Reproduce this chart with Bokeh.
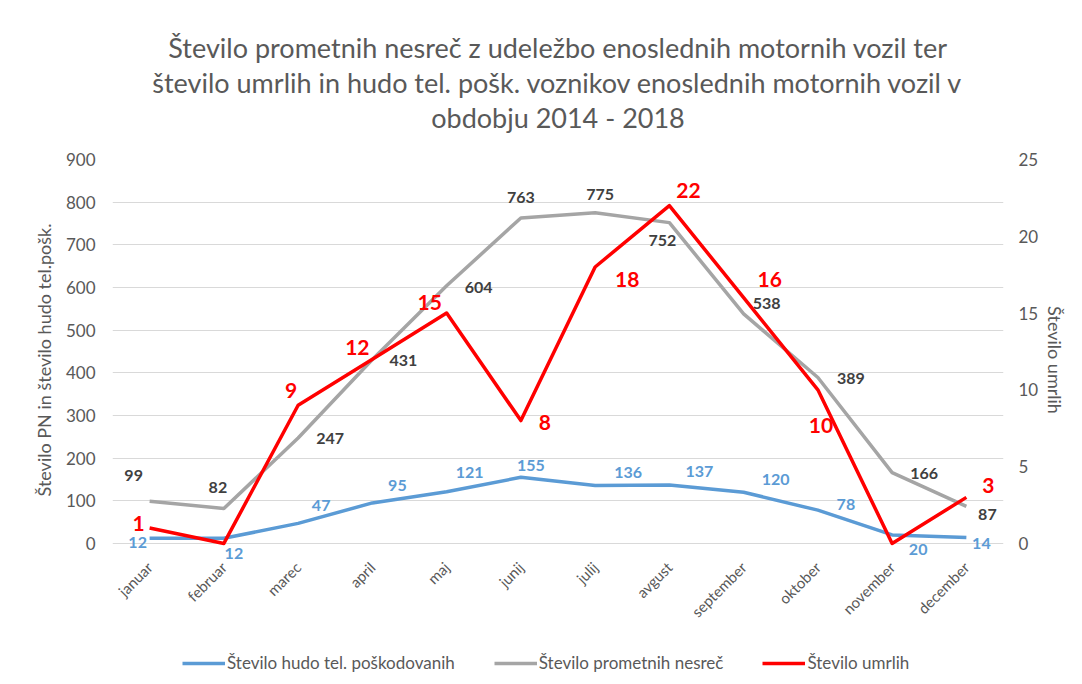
import math
from bokeh.plotting import figure
from bokeh.layouts import column
from bokeh.models import (ColumnDataSource, Range1d, LinearAxis, FactorRange, Legend, LegendItem,
                          Title, SingleIntervalTicker)
from bokeh.core.properties import value
from bokeh.embed import file_html
from bokeh.resources import INLINE

months = ["januar", "februar", "marec", "april", "maj", "junij", "julij", "avgust",
          "september", "oktober", "november", "december"]
injured = [12, 12, 47, 95, 121, 155, 136, 137, 120, 78, 20, 14]
accidents = [99, 82, 247, 431, 604, 763, 775, 752, 538, 389, 166, 87]
deaths = [1, 0, 9, 12, 15, 8, 18, 22, 16, 10, 0, 3]
series_names = ["Število hudo tel. poškodovanih", "Število prometnih nesreč", "Število umrlih"]
series_colors = ["#5b9bd5", "#a5a5a5", "#ff0000"]

# label offsets (screen px, down positive)
g_dx = [-16, -6, 32, 31, 32, 0, 5, -7, 23, 33, 32, 21]
g_dy = [-26, -21, 0, 1, 2, -20, -18, 18, -10, 1, 1, 8]
b_dx = [-12, 10, 23, 25, 23, 10, 33, 30, 32, 28, 26, 15]
b_dy = [4, 15, -18, -17, -19, -12, -13, -13, -13, -6, 15, 6]
r_dx = [-11, 0, -7, -15, -17, 24, 32, 19, 26, 3, 0, 22]
r_dy = [-5, 0, -15, -12, -11, 2, 12, -15, -18, 36, 0, -12]

FONT = "Lato"
GREY_TXT = "#595959"

p = figure(frame_width=891, frame_height=401,
           x_range=FactorRange(*months, range_padding=0),
           y_range=Range1d(-40, 900), output_backend="svg", toolbar_location=None,
           min_border_left=112, min_border_right=77, min_border_top=159, min_border_bottom=84)
p.extra_y_ranges = {"right": Range1d(-40 / 36, 25)}
p.outline_line_color = None
p.background_fill_color = "white"
p.border_fill_color = "white"

# spacer between title and plot area, then title lines
p.add_layout(Title(text="\u00a0", text_font=FONT, text_font_size="20px", standoff=0), "above")
for t in ["obdobju 2014 - 2018",
          "število umrlih in hudo tel. pošk. voznikov enoslednih motornih vozil v",
          "Število prometnih nesreč z udeležbo enoslednih motornih vozil ter"]:
    p.add_layout(Title(text=t, align="center", text_font=FONT, text_font_size="27px",
                       text_font_style="normal", text_color=GREY_TXT, standoff=0), "above")

# axes
p.yaxis.ticker = SingleIntervalTicker(interval=100)
p.yaxis.axis_label = "Število PN in število hudo tel.pošk."

right = LinearAxis(y_range_name="right", ticker=SingleIntervalTicker(interval=5),
                   axis_label="Število umrlih")
p.add_layout(right, "right")

for ax in p.yaxis + [right]:
    ax.axis_line_color = None
    ax.major_tick_line_color = None
    ax.minor_tick_line_color = None
    ax.major_tick_out = 0
    ax.major_tick_in = 0
    ax.minor_tick_out = 0
    ax.major_label_text_font = FONT
    ax.major_label_text_font_size = "17px"
    ax.major_label_text_color = GREY_TXT
    ax.axis_label_text_font = FONT
    ax.axis_label_text_font_size = "18px"
    ax.axis_label_text_font_style = "normal"
    ax.axis_label_text_color = GREY_TXT
p.yaxis[0].major_label_standoff = 17
p.yaxis[0].axis_label_standoff = 8
right.major_label_standoff = 15
right.axis_label_standoff = 3

p.xaxis.axis_line_color = None
p.xaxis.major_tick_line_color = None
p.xaxis.minor_tick_line_color = None
p.xaxis.major_tick_out = 0
p.xaxis.major_tick_in = 0
p.xaxis.minor_tick_out = 0
p.xaxis.major_label_orientation = math.pi / 4
p.xaxis.major_label_text_font = FONT
p.xaxis.major_label_text_font_size = "15px"
p.xaxis.major_label_text_color = GREY_TXT
p.xaxis.major_label_standoff = 4

p.xgrid.grid_line_color = None
p.ygrid.grid_line_color = "#d9d9d9"
p.ygrid.grid_line_width = 1

src = ColumnDataSource(dict(
    m=months, inj=injured, acc=accidents, dea=deaths,
    inj_t=[str(v) for v in injured], acc_t=[str(v) for v in accidents],
    dea_t=[str(v) if v != 0 else "" for v in deaths],
    gdx=g_dx, gdy=g_dy, bdx=b_dx, bdy=b_dy, rdx=r_dx, rdy=r_dy))

p.line("m", "inj", source=src, line_color=series_colors[0], line_width=3.5, line_join="round")
p.line("m", "acc", source=src, line_color=series_colors[1], line_width=3.5, line_join="round")
p.line("m", "dea", source=src, line_color=series_colors[2], line_width=3.5, line_join="round",
       y_range_name="right")

p.text("m", "acc", text="acc_t", source=src, x_offset="gdx", y_offset="gdy",
       text_align="center", text_baseline="middle", text_font=value(FONT),
       text_font_size="16px", text_font_style="bold", text_color="#404040")
p.text("m", "inj", text="inj_t", source=src, x_offset="bdx", y_offset="bdy",
       text_align="center", text_baseline="middle", text_font=value(FONT),
       text_font_size="16px", text_font_style="bold", text_color="#5b9bd5")
p.text("m", "dea", text="dea_t", source=src, x_offset="rdx", y_offset="rdy",
       text_align="center", text_baseline="middle", text_font=value(FONT),
       text_font_size="21px", text_font_style="bold", text_color="#ff0000",
       y_range_name="right")

# legend strip below the chart (legend proxies that draw nothing themselves)
leg = figure(width=1080, height=32, x_range=Range1d(0, 1), y_range=Range1d(0, 1),
             output_backend="svg", toolbar_location=None,
             min_border_left=0, min_border_right=0, min_border_top=0, min_border_bottom=0)
leg.axis.visible = False
leg.grid.visible = False
leg.outline_line_color = None
leg.border_fill_color = "white"
items = []
for name, col in zip(series_names, series_colors):
    r = leg.line(x=[float("nan")], y=[float("nan")], line_color=col, line_width=3.5)
    items.append(LegendItem(label=name, renderers=[r]))
legend = Legend(items=items, orientation="horizontal", location=(70, 3),
                border_line_color=None, background_fill_alpha=0,
                label_text_font=FONT, label_text_font_size="17px", label_text_color=GREY_TXT,
                glyph_width=43, spacing=39, label_standoff=2, margin=0, padding=4)
leg.add_layout(legend, "center")

layout = column(p, leg, spacing=0)
open("out.html", "w").write(file_html(layout, INLINE))
